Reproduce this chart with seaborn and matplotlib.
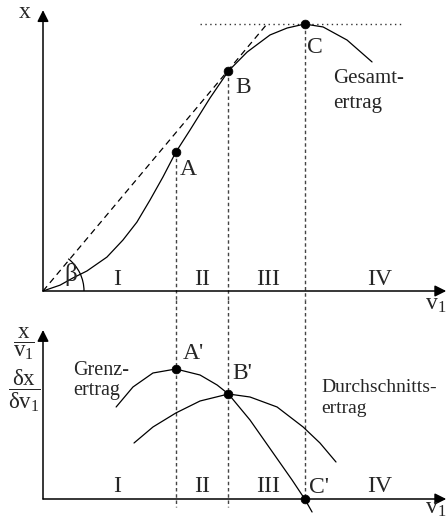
import matplotlib.pyplot as plt
import matplotlib.transforms as mtransforms
from matplotlib.patches import Arc
import seaborn as sns

# Gesamtertrag (total product)
v_total = [0, 0.65, 1.14, 1.67, 2.43, 3.04, 3.57, 4.07, 4.56, 5.05, 5.59, 6.35,
           7.05, 7.76, 8.63, 9.28, 9.95, 10.65, 11.56, 12.51]
x_total = [0, 2.2, 4.9, 7.5, 12.7, 19.1, 25.8, 34.1, 42.7, 52.0, 60.3, 72.3,
           82.4, 89.5, 95.9, 98.5, 100, 98.9, 94.0, 85.8]

# Grenzertrag (marginal product)
v_marg = [2.78, 3.42, 4.18, 5.05, 5.97, 6.62, 7.05, 7.87, 8.75, 9.47, 9.95, 10.23]
x_marg = [18.4, 22.4, 25.2, 26.0, 24.8, 22.8, 21.0, 15.8, 9.2, 3.8, 0, -2.6]

# Durchschnittsertrag (average product)
v_avg = [3.46, 4.18, 5.05, 5.97, 7.05, 7.87, 8.90, 9.89, 10.53, 11.14]
x_avg = [11.2, 14.4, 17.2, 19.6, 21.0, 20.4, 18.4, 14.4, 11.2, 7.4]

# key points A, B, C (top) and A', B', C' (bottom)
pts_v = [5.05, 7.05, 9.95]
pts_top = [52.0, 82.4, 100]
pts_bottom = [26.0, 21.0, 0]
names_top = ['A', 'B', 'C']
names_bottom = ["A'", "B'", "C'"]

# ray from the origin, tangent in B
ray_v = [0, 8.55]
ray_x = [0, 100.4]

phases = ['I', 'II', 'III', 'IV']
phase_v = [2.81, 6.05, 8.56, 12.78]

sns.set_theme(style='white')
plt.rcParams['font.family'] = ['Liberation Serif', 'DejaVu Serif']
plt.rcParams['mathtext.fontset'] = 'custom'
plt.rcParams['mathtext.rm'] = 'Liberation Serif'
plt.rcParams['mathtext.it'] = 'Liberation Serif'
plt.rcParams['mathtext.bf'] = 'Liberation Serif:bold'

fig = plt.figure(figsize=(4.47, 5.25), dpi=100)
ax1 = fig.add_axes([0, 225 / 525, 1, 300 / 525])
ax2 = fig.add_axes([0, 0, 1, 225 / 525])
ax1.set_xlim(-1.635, 15.36)
ax1.set_ylim(-3.37, 109.0)
ax2.set_xlim(-1.635, 15.36)
ax2.set_ylim(-5.2, 39.8)
for ax in (ax1, ax2):
    ax.set_axis_off()

guide = dict(color='#444444', lw=1.0, linestyle=(0, (2.5, 2)), clip_on=False)


def axis_arrow(ax, x0, y0, x1, y1):
    ax.annotate('', xy=(x1, y1), xytext=(x0, y0), annotation_clip=False,
                arrowprops=dict(arrowstyle='-|>', color='black', lw=1.1,
                                mutation_scale=17, shrinkA=0, shrinkB=0))


# --- top panel: total product
axis_arrow(ax1, 0, 0, 15.33, 0)
axis_arrow(ax1, 0, 0, 0, 105.2)
for v, y in zip(pts_v, pts_top):
    ax1.plot([v, v], [y, -3.37], **guide)
ax1.plot([5.97, 13.69], [100, 100], color='#333333', lw=1.0,
         linestyle=(0, (1, 2.5)))
ax1.plot(ray_v, ray_x, color='black', lw=0.9, linestyle=(0, (5, 3.5)))
sns.lineplot(x=v_total, y=x_total, ax=ax1, color='black', lw=0.9,
             estimator=None, sort=False)
sns.scatterplot(x=pts_v, y=pts_top, ax=ax1, color='black', s=40,
                edgecolor='black', zorder=5)

arc_tr = fig.dpi_scale_trans + mtransforms.ScaledTranslation(0, 0, ax1.transData)
ax1.add_patch(Arc((0, 0), 0.82, 0.82, theta1=0, theta2=52, transform=arc_tr,
                  color='black', lw=0.9))
ax1.text(1.06, 3.7, 'β', fontsize=18, ha='center', va='baseline')

ax1.text(-0.68, 102.2, 'x', fontsize=17, ha='center', va='baseline')
ax1.text(14.52, -7.1, r'$\mathregular{v_1}$', fontsize=17, ha='left', va='baseline')
lab_off = [(5.21, 43.4), (7.30, 74.2), (10.04, 89.1)]
for name, (tx, ty) in zip(names_top, lab_off):
    ax1.text(tx, ty, name, fontsize=17, ha='left', va='baseline')
ax1.text(11.03, 77.9, 'Gesamt-', fontsize=15, ha='left', va='baseline')
ax1.text(11.03, 68.5, 'ertrag', fontsize=15, ha='left', va='baseline')
for p, pv in zip(phases, phase_v):
    ax1.text(pv, 2.25, p, fontsize=17, ha='center', va='baseline')

# --- bottom panel: marginal and average product
axis_arrow(ax2, 0, 0, 15.33, 0)
axis_arrow(ax2, 0, 0, 0, 33.8)
for v, y_end in zip(pts_v, [-1.6, -1.6, 0]):
    ax2.plot([v, v], [39.8, y_end], **guide)
sns.lineplot(x=v_marg, y=x_marg, ax=ax2, color='black', lw=0.9,
             estimator=None, sort=False)
sns.lineplot(x=v_avg, y=x_avg, ax=ax2, color='black', lw=0.9,
             estimator=None, sort=False)
sns.scatterplot(x=pts_v, y=pts_bottom, ax=ax2, color='black', s=40,
                edgecolor='black', zorder=5, clip_on=False)

lab_off2 = [(5.32, 28.0), (7.19, 24.0), (10.11, 1.2)]
for name, (tx, ty) in zip(names_bottom, lab_off2):
    ax2.text(tx, ty, name, fontsize=17, ha='left', va='baseline')
ax2.text(1.14, 24.8, 'Grenz-', fontsize=14.5, ha='left', va='baseline')
ax2.text(1.14, 20.8, 'ertrag', fontsize=14.5, ha='left', va='baseline')
ax2.text(10.57, 21.4, 'Durchschnitts-', fontsize=14, ha='left', va='baseline')
ax2.text(10.57, 17.2, 'ertrag', fontsize=14, ha='left', va='baseline')
for p, pv in zip(phases, phase_v):
    ax2.text(pv, 1.4, p, fontsize=17, ha='center', va='baseline')
ax2.text(14.52, -2.9, r'$\mathregular{v_1}$', fontsize=17, ha='left', va='baseline')
ax2.text(-0.72, 31.0, r'$\dfrac{x}{v_1}$', fontsize=16.5, ha='center', va='center')
ax2.text(-0.72, 21.6, r'$\dfrac{\delta x}{\delta v_1}$', fontsize=16.5,
         ha='center', va='center')

fig.savefig('out.png', dpi=100)
